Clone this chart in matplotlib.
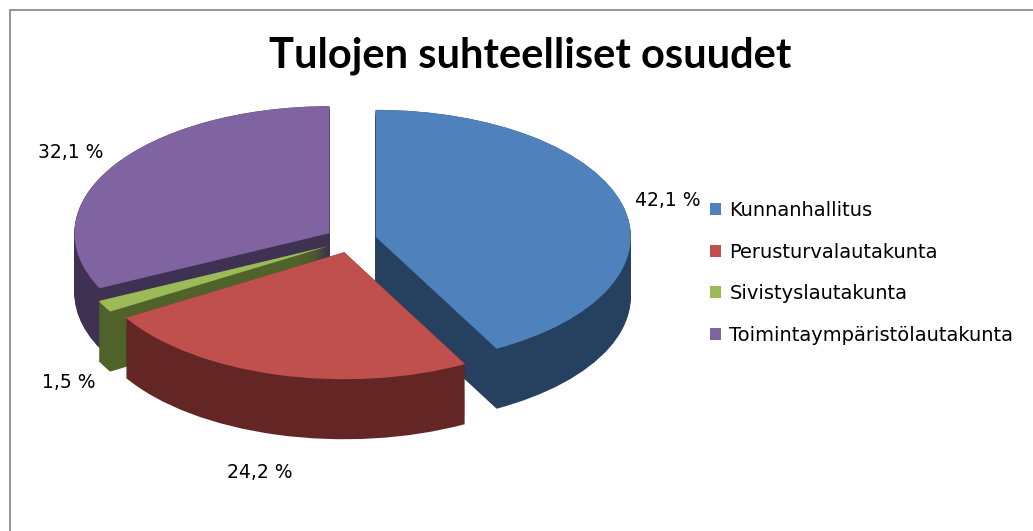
import numpy as np
import matplotlib.pyplot as plt
from matplotlib.patches import Rectangle

# data
categories = ["Kunnanhallitus", "Perusturvalautakunta", "Sivistyslautakunta",
              "Toimintaympäristölautakunta"]
shares = [42.1, 24.2, 1.5, 32.1]
pct_labels = ["42,1 %", "24,2 %", "1,5 %", "32,1 %"]

top_colors = ["#4F81BD", "#C0504D", "#9BBB59", "#8064A2"]
side_colors = ["#26405F", "#632624", "#4F6229", "#3F3152"]

W, H = 1033, 531
fig = plt.figure(figsize=(W / 100, H / 100), dpi=100)

# pixel layout of the pie: centre, radii, depth
cx, cy = 351, 240
rx, ry = 255, 127
depth = 60 / ry
xl = (-1.3, 1.3)
yl = (-1.9, 1.2)
ax = fig.add_axes([(cx + xl[0] * rx) / W, (H - cy + yl[0] * ry) / H,
                   (xl[1] - xl[0]) * rx / W, (yl[1] - yl[0]) * ry / H])

explode = [0.1] * len(shares)

# extruded sides: stack of dark pies going down
n_layers = 60
for d in np.linspace(depth, 0, n_layers):
    ax.pie(shares, explode=explode, startangle=90, counterclock=False,
           colors=side_colors, center=(0, -d), radius=1,
           wedgeprops=dict(linewidth=0))

# top face
wedges, _ = ax.pie(shares, explode=explode, startangle=90, counterclock=False,
                   colors=top_colors, center=(0, 0), radius=1,
                   wedgeprops=dict(linewidth=0))

ax.set_aspect('auto')
ax.set_xlim(*xl)
ax.set_ylim(*yl)
ax.axis('off')

# percentage labels outside the slices
lab_dist = [1.28, 1.36, 1.26, 1.3]
for w, txt, dist in zip(wedges, pct_labels, lab_dist):
    mid = np.deg2rad((w.theta1 + w.theta2) / 2)
    x = dist * np.cos(mid)
    y = dist * np.sin(mid)
    if y < 0:
        y -= depth + 0.05
    ax.text(x, y, txt, ha='center', va='center', fontsize=13.5,
            family='DejaVu Sans', color='black')

fig.text(530 / W, 1 - 56 / H, "Tulojen suhteelliset osuudet", ha='center',
         va='center', fontsize=30, fontweight='bold', family='Lato')

fig.legend(wedges, categories, loc='upper left',
           bbox_to_anchor=(710 / W, 1 - 201 / H), frameon=False,
           prop=dict(family='DejaVu Sans', size=14), handlelength=0.55,
           handleheight=0.55, handletextpad=0.45, labelspacing=1.16,
           borderpad=0, borderaxespad=0)

# chart border (top and left edges visible)
fig.patches.append(Rectangle((10 / W, -0.1), 1.2, 1.1 - 9.5 / H,
                             transform=fig.transFigure, fill=False,
                             edgecolor='#8C8C8C', linewidth=1.3))

fig.savefig("out.png", dpi=100)
